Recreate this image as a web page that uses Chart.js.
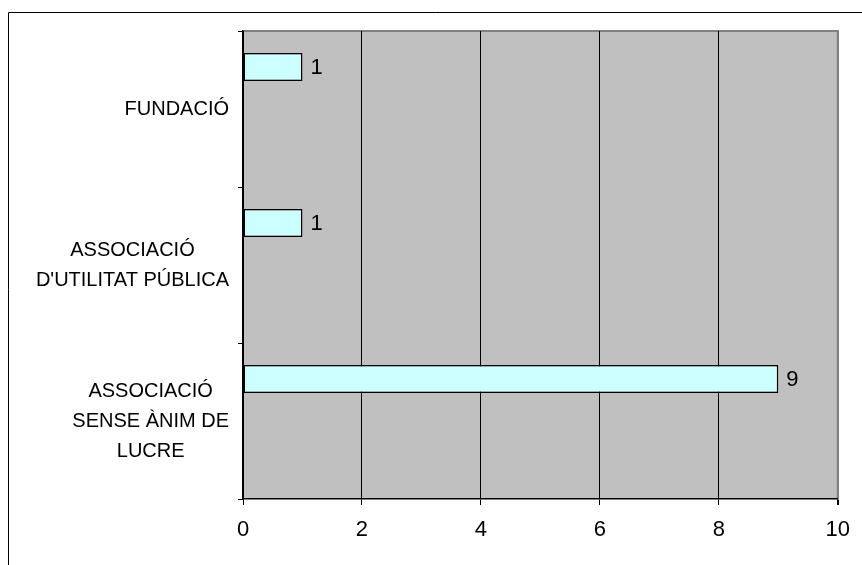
<!DOCTYPE html>
<html>
<head>
<meta charset="utf-8">
<script src="https://cdn.jsdelivr.net/npm/chart.js@4.4.1/dist/chart.umd.min.js"></script>
<style>
body { margin: 0; background: #fff; }
#wrap { width: 862px; height: 565px; }
</style>
</head>
<body>
<div id="wrap"><canvas id="barChart" width="862" height="565"></canvas></div>
<script>
// categories, top to bottom (each one is a list of label lines)
var categories = [
    ["FUNDACIÓ"],
    ["ASSOCIACIÓ", "D'UTILITAT PÚBLICA"],
    ["ASSOCIACIÓ", "SENSE ÀNIM DE", "LUCRE"]
];
var counts = [1, 1, 9];
// the source chart reserves room for three more (empty) series
var emptySeries = [null, null, null];
var xTicks = [0, 2, 4, 6, 8, 10];

var FONT = '"Liberation Sans", Arial, sans-serif';

var framePlugin = {
    id: 'frame',
    beforeDraw: function(chart) {
        var c = chart.ctx, a = chart.chartArea;
        c.save();
        // outer frame (top + left only visible)
        c.strokeStyle = '#000';
        c.lineWidth = 1;
        c.beginPath();
        c.moveTo(8.5, 600);
        c.lineTo(8.5, 12.5);
        c.lineTo(900, 12.5);
        c.stroke();
        // plot area
        c.fillStyle = '#C0C0C0';
        c.fillRect(a.left, a.top, a.right - a.left, a.bottom - a.top);
        c.strokeStyle = '#808080';
        c.lineWidth = 2;
        c.beginPath();
        c.moveTo(a.left, a.top);
        c.lineTo(a.right, a.top);
        c.lineTo(a.right, a.bottom);
        c.stroke();
        c.restore();
    }
};

var labelsPlugin = {
    id: 'labels',
    afterDraw: function(chart) {
        var c = chart.ctx;
        var yScale = chart.scales.y;
        c.save();
        c.fillStyle = '#000';
        c.font = '20px ' + FONT;
        c.textBaseline = 'middle';
        c.textAlign = 'center';
        // category labels: block right edge at 229, lines centred in block
        var lineH = 30;
        categories.forEach(function(lines, i) {
            var yc = yScale.getPixelForValue(i);
            var widest = 0;
            lines.forEach(function(l) { widest = Math.max(widest, c.measureText(l).width); });
            var xc = 229 - widest / 2;
            var y0 = yc - (lines.length - 1) * lineH / 2;
            lines.forEach(function(l, k) { c.fillText(l, xc, y0 + k * lineH); });
        });
        // value labels
        c.font = '22px ' + FONT;
        c.textAlign = 'left';
        var meta = chart.getDatasetMeta(0);
        meta.data.forEach(function(el, i) {
            c.fillText(String(counts[i]), el.x + 8, el.y + 1);
        });
        c.restore();
    }
};

var ctx = document.getElementById('barChart').getContext('2d');
var chart = new Chart(ctx, {
    type: 'bar',
    data: {
        labels: categories,
        datasets: [
            { data: counts, backgroundColor: '#CCFFFF', borderColor: '#000', borderWidth: 1.5, borderSkipped: false },
            { data: emptySeries },
            { data: emptySeries },
            { data: emptySeries }
        ]
    },
    options: {
        indexAxis: 'y',
        responsive: false,
        animation: false,
        categoryPercentage: 0.718,
        barPercentage: 1,
        layout: { padding: { top: 31, right: 23, left: 0, bottom: 0 } },
        plugins: {
            legend: { display: false },
            tooltip: { enabled: false },
            title: { display: false }
        },
        scales: {
            x: {
                min: xTicks[0],
                max: xTicks[xTicks.length - 1],
                afterFit: function(s) { s.height = 66; },
                ticks: {
                    stepSize: xTicks[1] - xTicks[0],
                    color: '#000',
                    padding: 12,
                    font: { family: FONT, size: 22 }
                },
                grid: {
                    color: function(c) { return c.tick && c.tick.value === xTicks[xTicks.length - 1] ? '#808080' : '#000'; },
                    lineWidth: function(c) { return c.tick && c.tick.value === xTicks[xTicks.length - 1] ? 2 : 1; },
                    tickColor: '#000',
                    tickLength: 6,
                    drawTicks: true
                },
                border: { display: true, color: '#000', width: 1.5 }
            },
            y: {
                afterFit: function(s) { s.width = 243; },
                ticks: { display: false },
                grid: {
                    drawOnChartArea: false,
                    drawTicks: true,
                    tickLength: 5,
                    tickColor: '#000'
                },
                border: { display: true, color: '#000', width: 1.5 }
            }
        }
    },
    plugins: [framePlugin, labelsPlugin]
});
</script>
</body>
</html>
